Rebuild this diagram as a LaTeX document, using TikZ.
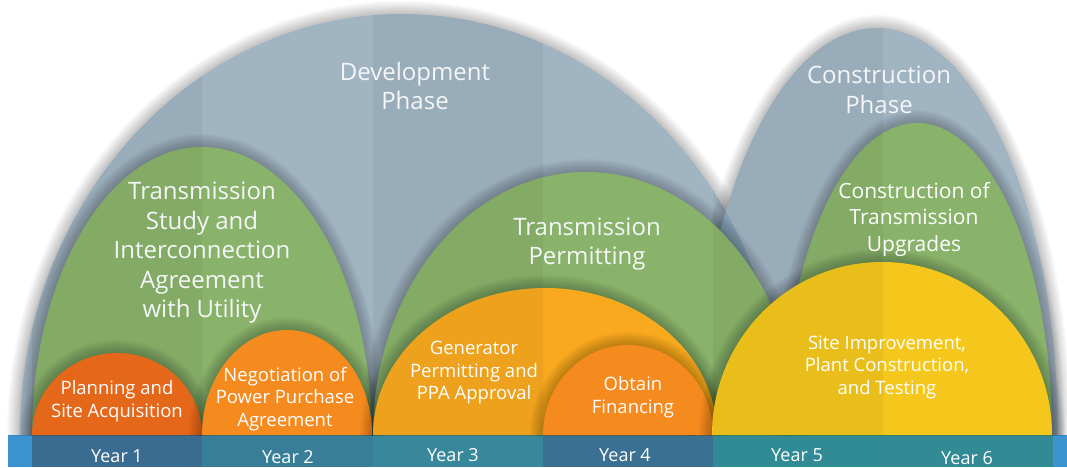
\documentclass[tikz,border=0pt]{standalone}
\usepackage{fontspec}
\setmainfont{Open Sans}
\definecolor{phasegray}{HTML}{A0B4C2}
\definecolor{overlapgray}{HTML}{88A4B8}
\definecolor{taskgreen}{HTML}{89B36A}
\definecolor{deeporange}{HTML}{EF6C1C}
\definecolor{midorange}{HTML}{F58A1F}
\definecolor{amber}{HTML}{F8A91E}
\definecolor{sunyellow}{HTML}{F5C71C}
\definecolor{barblue}{HTML}{3C93D0}
\definecolor{yearA}{HTML}{3A6B90}
\definecolor{yearB}{HTML}{387E98}
\definecolor{yearC}{HTML}{36889A}
\definecolor{yearD}{HTML}{3A7092}
\definecolor{yearE}{HTML}{308B95}
\definecolor{yearF}{HTML}{318A94}
\definecolor{labeltext}{HTML}{F4F6F7}
% a dome standing on the timeline: centre x, half width, height
\newcommand\domefill[4]{\fill[#4] ({#1-#2},435) arc[start angle=180,end angle=360,x radius=#2,y radius=#3] -- cycle;}
% soft shadow around a dome
\newcommand\domeshadow[3]{%
  \foreach \s in {1,...,12}{%
    \fill[black,opacity=0.02] ({#1-#2-1.1*\s},435) arc[start angle=180,end angle=360,x radius={#2+1.1*\s},y radius={#3+1.1*\s}] -- cycle;}}
\newcommand\dome[4]{\domeshadow{#1}{#2}{#3}\domefill{#1}{#2}{#3}{#4}}
\tikzset{
  biglabel/.style={text=labeltext,align=center,font=\fontsize{24}{29.5}\selectfont},
  midlabel/.style={text=white,align=center,font=\fontsize{21}{26.5}\selectfont},
  smalllabel/.style={text=white,align=center,font=\fontsize{18.5}{22.5}\selectfont},
  yearlabel/.style={text=white,align=center,font=\fontsize{18}{20}\selectfont},
}
\begin{document}
\begin{tikzpicture}[x=1pt,y=-1pt]
\useasboundingbox (0,0) rectangle (1067,467);
\fill[white] (0,0) rectangle (1067,467);

% timeline bar with one band per year
\fill[barblue] (8,435) rectangle (1067,467);
\fill[yearA] (32,435) rectangle (202,467);
\fill[yearB] (202,435) rectangle (373,467);
\fill[yearC] (373,435) rectangle (543,467);
\fill[yearD] (543,435) rectangle (713,467);
\fill[yearE] (713,435) rectangle (883,467);
\fill[yearF] (883,435) rectangle (1053,467);

% phases
\dome{402}{382}{421}{phasegray}
\dome{877}{181}{407}{phasegray}
\begin{scope}
  \clip (20,435) arc[start angle=180,end angle=360,x radius=382,y radius=421] -- cycle;
  \domefill{877}{181}{407}{overlapgray}
\end{scope}

% long-running tasks
\dome{202}{170}{288}{taskgreen}
\dome{586}{213}{263}{taskgreen}
\dome{917}{135}{312}{taskgreen}

% shorter tasks
\dome{117}{85}{82}{deeporange}
\dome{287}{85}{105}{midorange}
\dome{545}{172}{147}{amber}
\dome{628}{85}{90}{midorange}
\dome{882}{170}{173}{sunyellow}

% faint year columns across the domes
\begin{scope}
  \clip (20,435) arc[start angle=180,end angle=360,x radius=382,y radius=421] -- cycle
        (696,435) arc[start angle=180,end angle=360,x radius=181,y radius=407] -- cycle;
  \fill[black,opacity=0.045] (32,0) rectangle (202,435) (373,0) rectangle (543,435) (713,0) rectangle (883,435);
\end{scope}

% labels
\node[biglabel] (devphase) at (415,86) {Development\\Phase};
\node[biglabel] (conphase) at (879,90) {Construction\\Phase};
\node[biglabel] (study) at (202,253) {Transmission\\Study and\\Interconnection\\Agreement\\with Utility};
\node[biglabel] (permit) at (587,244) {Transmission\\Permitting};
\node[midlabel] (upgrade) at (914,219) {Construction of\\Transmission\\Upgrades};
\node[smalllabel] (siteimp) at (887,367) {Site Improvement,\\Plant Construction,\\and Testing};
\node[smalllabel] (genperm) at (474,373) {Generator\\Permitting and\\PPA Approval};
\node[smalllabel] (finance) at (633,397) {Obtain\\Financing};
\node[smalllabel] (planning) at (117,401) {Planning and\\Site Acquisition};
\node[smalllabel] (ppa) at (285,399) {Negotiation of\\Power Purchase\\Agreement};

\node[yearlabel] (y1) at (117,456) {Year 1};
\node[yearlabel] (y2) at (288,457) {Year 2};
\node[yearlabel] (y3) at (453,455) {Year 3};
\node[yearlabel] (y4) at (625,455) {Year 4};
\node[yearlabel] (y5) at (797,455) {Year 5};
\node[yearlabel] (y6) at (967,458) {Year 6};
\end{tikzpicture}
\end{document}
